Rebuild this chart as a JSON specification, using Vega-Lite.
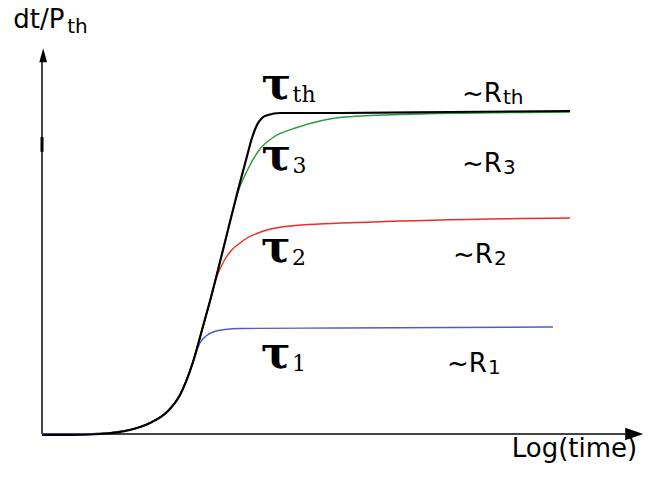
{
  "$schema": "https://vega.github.io/schema/vega-lite/v6.json",
  "width": 655,
  "height": 480,
  "padding": 0,
  "autosize": {"type": "fit", "contains": "padding"},
  "background": "white",
  "config": {"view": {"stroke": null}},
  "datasets": {
    "curves": [
      {"series": "th", "t": 0, "v": -0.3}, {"series": "th", "t": 4.67, "v": -0.3}, {"series": "th", "t": 9.67, "v": 0},
      {"series": "th", "t": 14.67, "v": 1.25}, {"series": "th", "t": 18, "v": 3.43}, {"series": "th", "t": 20.83, "v": 6.85},
      {"series": "th", "t": 23, "v": 12.15}, {"series": "th", "t": 25.17, "v": 22.43}, {"series": "th", "t": 26.67, "v": 32.4},
      {"series": "th", "t": 28, "v": 41.43}, {"series": "th", "t": 30.33, "v": 58.57}, {"series": "th", "t": 32.67, "v": 76.01},
      {"series": "th", "t": 34, "v": 85.36}, {"series": "th", "t": 35, "v": 92.21}, {"series": "th", "t": 35.83, "v": 96.26},
      {"series": "th", "t": 36.67, "v": 98.44}, {"series": "th", "t": 37.67, "v": 99.38}, {"series": "th", "t": 39.67, "v": 100},
      {"series": "th", "t": 49.67, "v": 100}, {"series": "th", "t": 68, "v": 100.31}, {"series": "th", "t": 88, "v": 100.62},

      {"series": "3", "t": 0, "v": 0}, {"series": "3", "t": 4.67, "v": 0}, {"series": "3", "t": 9.67, "v": 0.2},
      {"series": "3", "t": 14.67, "v": 1.35}, {"series": "3", "t": 18, "v": 3.5}, {"series": "3", "t": 20.83, "v": 6.9},
      {"series": "3", "t": 23, "v": 12.2}, {"series": "3", "t": 25.17, "v": 22.5}, {"series": "3", "t": 26.67, "v": 32.45},
      {"series": "3", "t": 28, "v": 41.45}, {"series": "3", "t": 30.33, "v": 58.57}, {"series": "3", "t": 31.67, "v": 68.54},
      {"series": "3", "t": 32.67, "v": 75.39}, {"series": "3", "t": 34.17, "v": 81.93}, {"series": "3", "t": 36.33, "v": 88.79},
      {"series": "3", "t": 38.5, "v": 92.37}, {"series": "3", "t": 42.5, "v": 95.48}, {"series": "3", "t": 46.33, "v": 97.51},
      {"series": "3", "t": 49.67, "v": 98.6}, {"series": "3", "t": 59.67, "v": 99.53}, {"series": "3", "t": 88, "v": 100.31},

      {"series": "2", "t": 0, "v": 0}, {"series": "2", "t": 4.67, "v": 0}, {"series": "2", "t": 9.67, "v": 0.2},
      {"series": "2", "t": 14.67, "v": 1.35}, {"series": "2", "t": 18, "v": 3.5}, {"series": "2", "t": 20.83, "v": 6.9},
      {"series": "2", "t": 23, "v": 12.2}, {"series": "2", "t": 25.17, "v": 22.5}, {"series": "2", "t": 26.67, "v": 32.45},
      {"series": "2", "t": 28, "v": 41.45}, {"series": "2", "t": 29.17, "v": 49.22}, {"series": "2", "t": 30.33, "v": 53.89},
      {"series": "2", "t": 31.33, "v": 56.7}, {"series": "2", "t": 33, "v": 59.5}, {"series": "2", "t": 34.17, "v": 61.06},
      {"series": "2", "t": 35.83, "v": 62.46}, {"series": "2", "t": 37.5, "v": 63.55}, {"series": "2", "t": 41.33, "v": 64.8},
      {"series": "2", "t": 55.17, "v": 66.04}, {"series": "2", "t": 88, "v": 67.29},

      {"series": "1", "t": 0, "v": 0}, {"series": "1", "t": 4.67, "v": 0}, {"series": "1", "t": 9.67, "v": 0.2},
      {"series": "1", "t": 14.67, "v": 1.35}, {"series": "1", "t": 18, "v": 3.5}, {"series": "1", "t": 20.83, "v": 6.9},
      {"series": "1", "t": 23, "v": 12.2}, {"series": "1", "t": 25.17, "v": 22.5}, {"series": "1", "t": 26.33, "v": 28.35},
      {"series": "1", "t": 27.33, "v": 30.53}, {"series": "1", "t": 28.5, "v": 31.78}, {"series": "1", "t": 30.5, "v": 32.55},
      {"series": "1", "t": 33, "v": 32.87}, {"series": "1", "t": 49.67, "v": 33.02}, {"series": "1", "t": 85.17, "v": 33.33}
    ],
    "axisLines": [
      {"axis": "y", "t": 0, "v": 0, "t2": 0, "v2": 115.9},
      {"axis": "x", "t": 0, "v": 0, "t2": 97.2, "v2": 0}
    ],
    "axisTick": [
      {"t": 0, "v": 87.9, "t2": 0, "v2": 92.5}
    ],
    "arrowHeads": [
      {"dir": "up", "t": 0.2, "v": 118},
      {"dir": "right", "t": 98.7, "v": 0}
    ],
    "axisTitles": [
      {"text": "Log(time)", "t": 78.3, "v": -7.2},
      {"text": "dt/P", "t": -4.8, "v": 126.5}
    ],
    "axisTitleSubs": [
      {"text": "th", "t": -4.8, "v": 126.5}
    ],
    "tauLabels": [
      {"label": "τ", "sub": "th", "t": 36.6, "v": 104.4},
      {"label": "τ", "sub": "3", "t": 36.6, "v": 82.2},
      {"label": "τ", "sub": "2", "t": 36.5, "v": 53.6},
      {"label": "τ", "sub": "1", "t": 36.5, "v": 20.6}
    ],
    "resistanceLabels": [
      {"label": "~R", "sub": "th", "t": 70, "v": 103.4},
      {"label": "~R", "sub": "3", "t": 70, "v": 81.6},
      {"label": "~R", "sub": "2", "t": 68.5, "v": 53.3},
      {"label": "~R", "sub": "1", "t": 67.5, "v": 19.3}
    ]
  },
  "encoding": {
    "x": {"field": "t", "type": "quantitative", "axis": null,
          "scale": {"domain": [-7, 102.17], "nice": false, "zero": false}},
    "y": {"field": "v", "type": "quantitative", "axis": null,
          "scale": {"domain": [-14.33, 135.2], "nice": false, "zero": false}}
  },
  "layer": [
    {
      "data": {"name": "axisLines"},
      "mark": {"type": "rule", "color": "#444", "strokeWidth": 2},
      "encoding": {"x2": {"field": "t2"}, "y2": {"field": "v2"}}
    },
    {
      "data": {"name": "axisTick"},
      "mark": {"type": "rule", "color": "#000", "strokeWidth": 3},
      "encoding": {"x2": {"field": "t2"}, "y2": {"field": "v2"}}
    },
    {
      "data": {"name": "arrowHeads"},
      "mark": {"type": "point", "filled": true, "color": "#000", "opacity": 1},
      "encoding": {
        "shape": {"field": "dir", "type": "nominal", "legend": null,
                  "scale": {"domain": ["up", "right"], "range": ["M0,-1L0.55,1L-0.55,1Z", "M1,0L-1,-0.7L-1,0.7Z"]}},
        "size": {"field": "dir", "type": "nominal", "legend": null,
                 "scale": {"domain": ["up", "right"], "range": [200, 324]}}
      }
    },
    {
      "data": {"name": "curves"},
      "transform": [{"filter": "datum.series !== 'th'"}],
      "mark": {"type": "line", "strokeWidth": 1.4, "interpolate": "monotone"},
      "encoding": {
        "color": {"field": "series", "type": "nominal", "legend": null,
                  "scale": {"domain": ["3", "2", "1"], "range": ["#2e9b3e", "#ee2a2a", "#4a5fc6"]}}
      }
    },
    {
      "data": {"name": "curves"},
      "transform": [{"filter": "datum.series === 'th'"}],
      "mark": {"type": "line", "strokeWidth": 2.2, "color": "#000", "interpolate": "monotone"}
    },
    {
      "data": {"name": "tauLabels"},
      "mark": {"type": "text", "font": "DejaVu Serif", "fontWeight": "bold", "fontSize": 44, "align": "left", "baseline": "alphabetic", "color": "#000"},
      "encoding": {"text": {"field": "label"}}
    },
    {
      "data": {"name": "tauLabels"},
      "mark": {"type": "text", "font": "DejaVu Serif", "fontSize": 22, "align": "left", "baseline": "alphabetic", "dx": 31, "dy": 3, "color": "#000"},
      "encoding": {"text": {"field": "sub"}}
    },
    {
      "data": {"name": "resistanceLabels"},
      "mark": {"type": "text", "font": "DejaVu Sans", "fontSize": 26, "align": "left", "baseline": "alphabetic", "color": "#000"},
      "encoding": {"text": {"field": "label"}}
    },
    {
      "data": {"name": "resistanceLabels"},
      "mark": {"type": "text", "font": "DejaVu Sans", "fontSize": 20, "align": "left", "baseline": "alphabetic", "dx": 41, "dy": 2, "color": "#000"},
      "encoding": {"text": {"field": "sub"}}
    },
    {
      "data": {"name": "axisTitles"},
      "transform": [{"filter": "datum.text === 'Log(time)'"}],
      "mark": {"type": "text", "font": "DejaVu Sans", "fontSize": 26, "align": "left", "baseline": "alphabetic", "color": "#000"},
      "encoding": {"text": {"field": "text"}}
    },
    {
      "data": {"name": "axisTitles"},
      "transform": [{"filter": "datum.text === 'dt/P'"}],
      "mark": {"type": "text", "font": "DejaVu Sans", "fontSize": 26, "align": "left", "baseline": "alphabetic", "color": "#000"},
      "encoding": {"text": {"field": "text"}}
    },
    {
      "data": {"name": "axisTitleSubs"},
      "mark": {"type": "text", "font": "DejaVu Sans", "fontSize": 20, "align": "left", "baseline": "alphabetic", "dx": 54, "dy": 5, "color": "#000"},
      "encoding": {"text": {"field": "text"}}
    }
  ]
}
